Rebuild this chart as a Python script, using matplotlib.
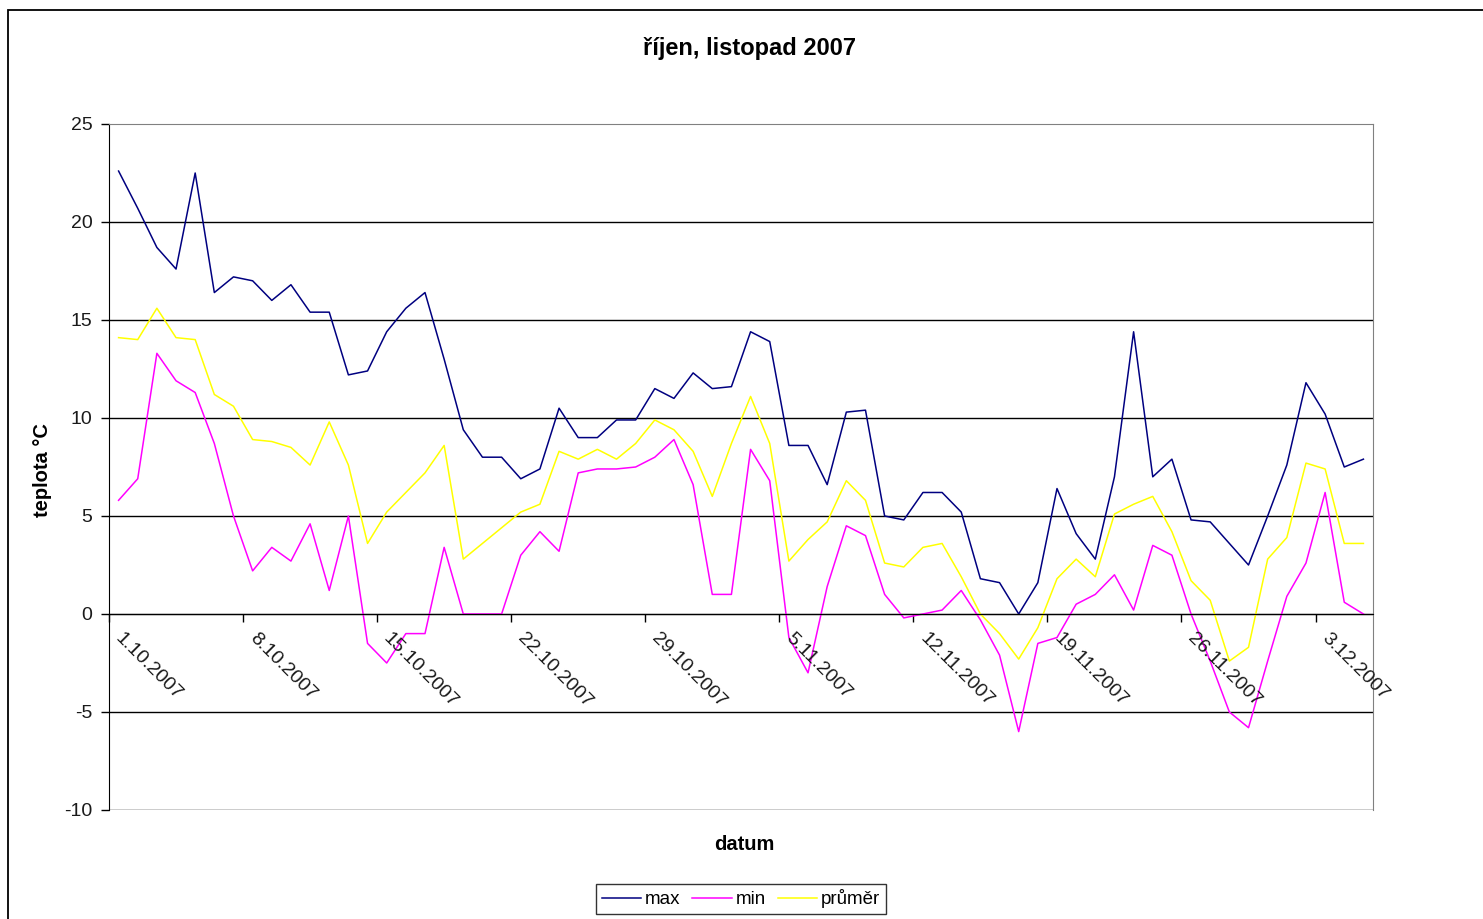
import matplotlib
matplotlib.use('Agg')
import matplotlib.pyplot as plt
import matplotlib.transforms as mtransforms
from matplotlib.patches import Rectangle
import numpy as np
import pandas as pd

plt.rcParams['font.family'] = ['Liberation Sans', 'DejaVu Sans']
plt.rcParams['axes.unicode_minus'] = False

# denní teploty 1.10.2007 - 5.12.2007
dny = pd.date_range('2007-10-01', periods=66, freq='D')
max_t = [22.6, 20.7, 18.7, 17.6, 22.5, 16.4, 17.2, 17.0, 16.0, 16.8,
         15.4, 15.4, 12.2, 12.4, 14.4, 15.6, 16.4, 13.0, 9.4, 8.0,
         8.0, 6.9, 7.4, 10.5, 9.0, 9.0, 9.9, 9.9, 11.5, 11.0,
         12.3, 11.5, 11.6, 14.4, 13.9, 8.6, 8.6, 6.6, 10.3, 10.4,
         5.0, 4.8, 6.2, 6.2, 5.2, 1.8, 1.6, 0.0, 1.6, 6.4,
         4.1, 2.8, 7.0, 14.4, 7.0, 7.9, 4.8, 4.7, 3.6, 2.5,
         5.0, 7.6, 11.8, 10.2, 7.5, 7.9]
min_t = [5.8, 6.9, 13.3, 11.9, 11.3, 8.7, 5.0, 2.2, 3.4, 2.7,
         4.6, 1.2, 5.0, -1.5, -2.5, -1.0, -1.0, 3.4, 0.0, 0.0,
         0.0, 3.0, 4.2, 3.2, 7.2, 7.4, 7.4, 7.5, 8.0, 8.9,
         6.6, 1.0, 1.0, 8.4, 6.8, -1.2, -3.0, 1.4, 4.5, 4.0,
         1.0, -0.2, 0.0, 0.2, 1.2, -0.3, -2.1, -6.0, -1.5, -1.2,
         0.5, 1.0, 2.0, 0.2, 3.5, 3.0, 0.0, -2.4, -5.0, -5.8,
         -2.4, 0.9, 2.6, 6.2, 0.6, 0.0]
prumer_t = [14.1, 14.0, 15.6, 14.1, 14.0, 11.2, 10.6, 8.9, 8.8, 8.5,
            7.6, 9.8, 7.6, 3.6, 5.2, 6.2, 7.2, 8.6, 2.8, 3.6,
            4.4, 5.2, 5.6, 8.3, 7.9, 8.4, 7.9, 8.7, 9.9, 9.4,
            8.3, 6.0, 8.7, 11.1, 8.7, 2.7, 3.8, 4.7, 6.8, 5.8,
            2.6, 2.4, 3.4, 3.6, 1.9, 0.0, -1.0, -2.3, -0.7, 1.8,
            2.8, 1.9, 5.1, 5.6, 6.0, 4.2, 1.7, 0.7, -2.4, -1.7,
            2.8, 3.9, 7.7, 7.4, 3.6, 3.6]

W, H = 1483, 919
fig = plt.figure(figsize=(W / 100, H / 100), dpi=100)
fig.patch.set_facecolor('white')

# rámeček celé oblasti grafu
fig.patches.append(Rectangle((8 / W, -0.01), 1.02, 1 - 10 / H + 0.01,
                             transform=fig.transFigure, fill=False,
                             edgecolor='black', linewidth=1.3))

ax = fig.add_axes([109 / W, 1 - 810 / H, (1373 - 109) / W, (810 - 124) / H])

x = np.arange(len(dny))
ax.plot(x, max_t, color='#000080', linewidth=1.1, label='max')
ax.plot(x, min_t, color='#FF00FF', linewidth=1.1, label='min')
ax.plot(x, prumer_t, color='#FFFF00', linewidth=1.1, label='průměr')

ax.set_xlim(-0.5, len(dny) - 0.5)
ax.set_ylim(-10, 25)
ax.set_yticks(np.arange(-10, 26, 5))
for y in range(-10, 25, 5):
    ax.axhline(y, color='black', linewidth=1.0, zorder=0.5)

# osa x prochází nulou
ax.spines['bottom'].set_position(('data', 0))
ax.spines['bottom'].set_color('black')
ax.spines['left'].set_color('black')
ax.spines['top'].set_color('#808080')
ax.spines['right'].set_color('#808080')

# popisky dat každý týden, šikmo pod osou
pos = np.arange(0, len(dny), 7) - 0.5
labels = [f'{d.day}.{d.month}.{d.year}' for d in dny[::7]]
ax.set_xticks(pos)
ax.set_xticklabels([])
offset = mtransforms.ScaledTranslation(15 / 100, -16 / 100, fig.dpi_scale_trans)
for p, lab in zip(pos, labels):
    ax.text(p, 0, lab, transform=ax.transData + offset, rotation=-45,
            rotation_mode='anchor', ha='left', va='top', fontsize=14,
            color='#1a1a1a')

ax.tick_params(axis='x', direction='out', length=6, width=1)
ax.tick_params(axis='y', direction='out', length=6, width=1, pad=6,
               labelsize=14, labelcolor='#1a1a1a')

fig.text(749 / W, 1 - 48 / H, 'říjen, listopad 2007', ha='center', va='center',
         fontsize=17, fontweight='bold')
fig.text(744 / W, 1 - 845 / H, 'datum', ha='center', va='center',
         fontsize=14.5, fontweight='bold')
fig.text(42 / W, 1 - 470 / H, 'teplota °C', ha='center', va='center',
         rotation=90, fontsize=14.5, fontweight='bold')

leg = fig.legend(loc='center', bbox_to_anchor=(741 / W, 1 - 899 / H), ncol=3,
                 frameon=True, fancybox=False, fontsize=13.5, handlelength=2.1,
                 handletextpad=0.2, columnspacing=0.65, borderpad=0.3)
leg.get_frame().set_edgecolor('black')
leg.get_frame().set_linewidth(1.0)

plt.savefig('out.png', dpi=100)
plt.close()
